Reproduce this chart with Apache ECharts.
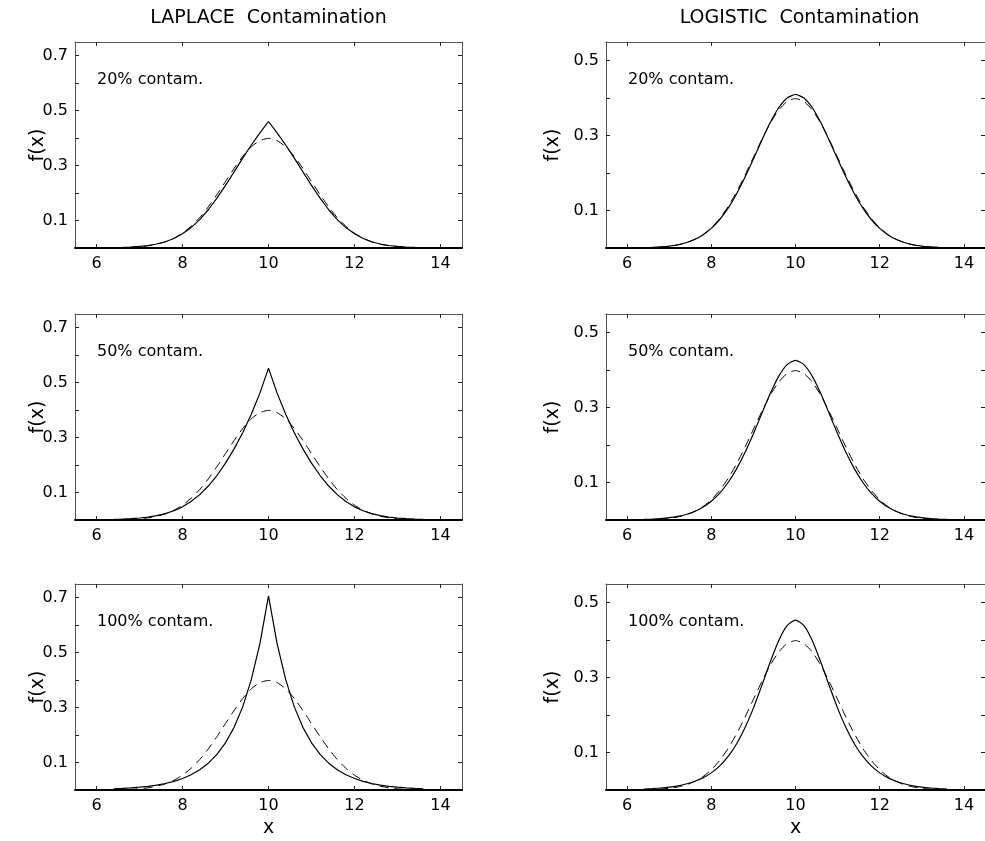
<!DOCTYPE html>
<html>
<head>
<meta charset="utf-8">
<script src="https://cdn.jsdelivr.net/npm/echarts@6/dist/echarts.min.js"></script>
<style>
html, body { margin: 0; padding: 0; background: #fff; }
#chart { width: 985px; height: 841px; }
</style>
</head>
<body>
<div id="chart"></div>
<script>
// x grid shared by every curve
const xValues = [6.4, 6.6, 6.8, 7.0, 7.2, 7.4, 7.6, 7.8, 8.0, 8.2, 8.4, 8.6, 8.8, 9.0, 9.2, 9.4, 9.6, 9.8,
    10.0, 10.2, 10.4, 10.6, 10.8, 11.0, 11.2, 11.4, 11.6, 11.8, 12.0, 12.2, 12.4, 12.6, 12.8, 13.0, 13.2, 13.4, 13.6];

// dashed reference curve (same in all panels)
const normalRef = [0.0006, 0.0012, 0.0024, 0.0044, 0.0079, 0.0136, 0.0224, 0.0355, 0.0540, 0.0790, 0.1109, 0.1497, 0.1942, 0.2420, 0.2897, 0.3332, 0.3683, 0.3910,
    0.3989, 0.3910, 0.3683, 0.3332, 0.2897, 0.2420, 0.1942, 0.1497, 0.1109, 0.0790, 0.0540, 0.0355, 0.0224, 0.0136, 0.0079, 0.0044, 0.0024, 0.0012, 0.0006];

// solid curves
const laplace20 = [0.0013, 0.0021, 0.0035, 0.0056, 0.0090, 0.0145, 0.0227, 0.0347, 0.0516, 0.0743, 0.1034, 0.1393, 0.1813, 0.2280, 0.2774, 0.3271, 0.3750, 0.4194,
    0.4606, 0.4194, 0.3750, 0.3271, 0.2774, 0.2280, 0.1813, 0.1393, 0.1034, 0.0743, 0.0516, 0.0347, 0.0227, 0.0145, 0.0090, 0.0056, 0.0035, 0.0021, 0.0013];
const laplace50 = [0.0025, 0.0035, 0.0051, 0.0073, 0.0107, 0.0158, 0.0231, 0.0335, 0.0479, 0.0673, 0.0923, 0.1237, 0.1619, 0.2070, 0.2589, 0.3180, 0.3850, 0.4620,
    0.5530, 0.4620, 0.3850, 0.3180, 0.2589, 0.2070, 0.1619, 0.1237, 0.0923, 0.0673, 0.0479, 0.0335, 0.0231, 0.0158, 0.0107, 0.0073, 0.0051, 0.0035, 0.0025];
const laplace100 = [0.0043, 0.0058, 0.0077, 0.0102, 0.0135, 0.0179, 0.0237, 0.0315, 0.0418, 0.0555, 0.0736, 0.0976, 0.1296, 0.1719, 0.2281, 0.3027, 0.4016, 0.5329,
    0.7071, 0.5329, 0.4016, 0.3027, 0.2281, 0.1719, 0.1296, 0.0976, 0.0736, 0.0555, 0.0418, 0.0315, 0.0237, 0.0179, 0.0135, 0.0102, 0.0077, 0.0058, 0.0043];
const logistic20 = [0.0010, 0.0017, 0.0030, 0.0051, 0.0086, 0.0141, 0.0225, 0.0349, 0.0523, 0.0761, 0.1066, 0.1444, 0.1886, 0.2373, 0.2876, 0.3349, 0.3744, 0.4006,
    0.4098, 0.4006, 0.3744, 0.3349, 0.2876, 0.2373, 0.1886, 0.1444, 0.1066, 0.0761, 0.0523, 0.0349, 0.0225, 0.0141, 0.0086, 0.0051, 0.0030, 0.0017, 0.0010];
const logistic50 = [0.0016, 0.0025, 0.0039, 0.0061, 0.0096, 0.0148, 0.0226, 0.0339, 0.0499, 0.0717, 0.1002, 0.1364, 0.1801, 0.2303, 0.2844, 0.3375, 0.3835, 0.4150,
    0.4262, 0.4150, 0.3835, 0.3375, 0.2844, 0.2303, 0.1801, 0.1364, 0.1002, 0.0717, 0.0499, 0.0339, 0.0226, 0.0148, 0.0096, 0.0061, 0.0039, 0.0025, 0.0016];
const logistic100 = [0.0026, 0.0038, 0.0054, 0.0078, 0.0112, 0.0160, 0.0227, 0.0323, 0.0457, 0.0643, 0.0895, 0.1230, 0.1660, 0.2186, 0.2790, 0.3418, 0.3987, 0.4389,
    0.4534, 0.4389, 0.3987, 0.3418, 0.2790, 0.2186, 0.1660, 0.1230, 0.0895, 0.0643, 0.0457, 0.0323, 0.0227, 0.0160, 0.0112, 0.0078, 0.0054, 0.0038, 0.0026];

// ticks and labels
const xTicks = [6, 8, 10, 12, 14];
const yTicksLaplace = [0.1, 0.2, 0.3, 0.4, 0.5, 0.6, 0.7];
const yLabelsLaplace = [0.1, 0.3, 0.5, 0.7];
const yTicksLogistic = [0.1, 0.2, 0.3, 0.4, 0.5];
const yLabelsLogistic = [0.1, 0.3, 0.5];

const columnTitles = ['LAPLACE  Contamination', 'LOGISTIC  Contamination'];
const contamLabels = ['20% contam.', '50% contam.', '100% contam.'];
const solidCurves = [
    [laplace20, logistic20],
    [laplace50, logistic50],
    [laplace100, logistic100]
];

const FONT = '"DejaVu Sans", "Liberation Sans", sans-serif';
const colLeft = [75, 606];
const rowTop = [42, 314, 584];
const gridW = 387, gridH = 206;
const yMax = [0.75, 0.55];
const yTicks = [yTicksLaplace, yTicksLogistic];
const yLabels = [yLabelsLaplace, yLabelsLogistic];
const yNameGap = [27, 43];

const grids = [], xAxes = [], yAxes = [], series = [], graphics = [];

columnTitles.forEach((t, col) => {
    graphics.push({
        type: 'text',
        x: colLeft[col] + gridW / 2,
        y: 18,
        style: {
            text: t, fontSize: 19, fontFamily: FONT, fill: '#000',
            align: 'center', verticalAlign: 'middle', textAlign: 'center', textVerticalAlign: 'middle'
        }
    });
});

for (let row = 0; row < 3; row++) {
    for (let col = 0; col < 2; col++) {
        const i = grids.length;
        grids.push({ left: colLeft[col], top: rowTop[row], width: gridW, height: gridH });

        const tickStyle = { color: '#222', width: 1 };
        const frameLine = { show: true, onZero: false, lineStyle: { color: '#555', width: 1 } };

        xAxes.push({
            type: 'value', gridIndex: i, position: 'bottom', min: 5.5, max: 14.5,
            axisLine: { show: true, onZero: false, lineStyle: { color: '#000', width: 2 } },
            axisTick: { show: true, inside: true, length: 4, customValues: xTicks, lineStyle: tickStyle },
            axisLabel: { customValues: xTicks, margin: 8, fontSize: 16, fontFamily: FONT, color: '#000' },
            splitLine: { show: false },
            name: row === 2 ? 'x' : '',
            nameLocation: 'middle', nameGap: 29, nameMoveOverlap: false,
            nameTextStyle: { fontSize: 19, fontFamily: FONT, color: '#000' }
        });
        xAxes.push({
            type: 'value', gridIndex: i, position: 'top', min: 5.5, max: 14.5,
            axisLine: frameLine,
            axisTick: { show: true, inside: true, length: 4, customValues: xTicks, lineStyle: tickStyle },
            axisLabel: { show: false },
            splitLine: { show: false }
        });
        yAxes.push({
            type: 'value', gridIndex: i, position: 'left', min: 0, max: yMax[col],
            axisLine: frameLine,
            axisTick: { show: true, inside: true, length: 4, customValues: yTicks[col], lineStyle: tickStyle },
            axisLabel: { customValues: yLabels[col], margin: 7, fontSize: 16, fontFamily: FONT, color: '#000' },
            splitLine: { show: false },
            name: 'f(x)', nameLocation: 'middle', nameRotate: 90, nameGap: yNameGap[col], nameMoveOverlap: false,
            nameTextStyle: { fontSize: 19, fontFamily: FONT, color: '#000' }
        });
        yAxes.push({
            type: 'value', gridIndex: i, position: 'right', min: 0, max: yMax[col],
            axisLine: frameLine,
            axisTick: { show: true, inside: true, length: 4, customValues: yTicks[col], lineStyle: tickStyle },
            axisLabel: { show: false },
            splitLine: { show: false }
        });

        series.push({
            type: 'line', xAxisIndex: 2 * i, yAxisIndex: 2 * i,
            data: xValues.map((x, k) => [x, normalRef[k]]),
            showSymbol: false, symbol: 'none', smooth: 0.2,
            lineStyle: { color: '#000', width: 1, type: [9, 6] },
            silent: true
        });
        const curve = solidCurves[row][col];
        series.push({
            type: 'line', xAxisIndex: 2 * i, yAxisIndex: 2 * i,
            data: xValues.map((x, k) => [x, curve[k]]),
            showSymbol: false, symbol: 'none', smooth: col === 1 ? 0.2 : false,
            lineStyle: { color: '#000', width: 1.2 },
            silent: true
        });

        graphics.push({
            type: 'text',
            x: colLeft[col] + 22,
            y: rowTop[row] + 38,
            style: {
                text: contamLabels[row], fontSize: 16, fontFamily: FONT, fill: '#000',
                align: 'left', verticalAlign: 'middle', textAlign: 'left', textVerticalAlign: 'middle'
            }
        });
    }
}

const chart = echarts.init(document.getElementById('chart'));
chart.setOption({
    backgroundColor: '#fff',
    animation: false,
    grid: grids,
    xAxis: xAxes,
    yAxis: yAxes,
    series: series,
    graphic: graphics
});
</script>
</body>
</html>
